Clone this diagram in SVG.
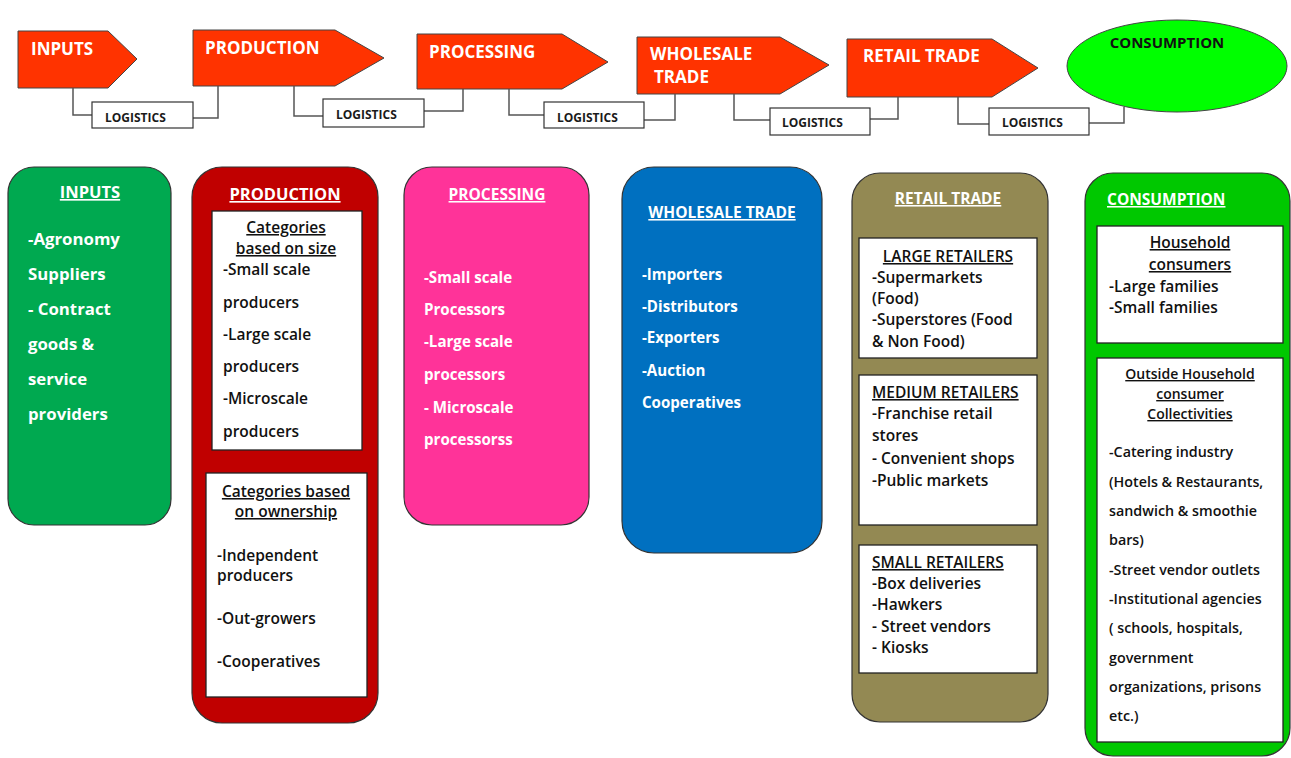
<svg xmlns="http://www.w3.org/2000/svg" width="1291" height="758" viewBox="0 0 1291 758">
<style>
  .arrow{fill:#FF3300;stroke:#444;stroke-width:1}
  .atxt{font-family:"Open Sans","Liberation Sans",sans-serif;font-weight:bold;font-size:17px;fill:#fff}
  .lbox{fill:#fff;stroke:#333;stroke-width:1.2}
  .ltxt{font-family:"Open Sans","Liberation Sans",sans-serif;font-weight:bold;font-size:12px;fill:#1a1a1a}
  .conn{fill:none;stroke:#555;stroke-width:1.5}
  .col{stroke:#333;stroke-width:1.2}
  .ttl{font-family:"Open Sans","Liberation Sans",sans-serif;font-weight:bold;fill:#fff;text-decoration:underline}
  .wt{font-family:"Open Sans","Liberation Sans",sans-serif;font-weight:bold;fill:#fff;font-size:16.8px}
  .wt.ws{font-size:15.1px}
  .inner{fill:#fff;stroke:#222;stroke-width:1.3}
  .dt{font-family:"Open Sans","Liberation Sans",sans-serif;font-weight:600;fill:#111;font-size:15.5px}
  .dh{font-family:"Open Sans","Liberation Sans",sans-serif;font-weight:600;fill:#111;font-size:15.5px;text-decoration:underline}
  .dt.ct{font-size:14.3px}
  .dh.ch{font-size:14px}
</style>

<!-- top chain -->
<g id="top-inputs"><path class="arrow" d="M18,31 H108 L137,59 L108,88 H18 Z"/><text class="atxt" x="31" y="55">INPUTS</text></g>
<g id="top-production"><path class="arrow" d="M193,30 H335 L384,58 L335,86 H193 Z"/><text class="atxt" x="205" y="54">PRODUCTION</text></g>
<g id="top-processing"><path class="arrow" d="M417,34 H562 L608,62 L562,89 H417 Z"/><text class="atxt" x="429" y="58">PROCESSING</text></g>
<g id="top-wholesale"><path class="arrow" d="M637,37 H780 L829,65 L780,94 H637 Z"/><text class="atxt" x="650" y="60">WHOLESALE</text><text class="atxt" x="654" y="83">TRADE</text></g>
<g id="top-retail"><path class="arrow" d="M847,39 H992 L1038,68 L992,97 H847 Z"/><text class="atxt" x="863" y="62">RETAIL TRADE</text></g>
<g id="top-consumption"><ellipse cx="1177" cy="66" rx="110" ry="46" fill="#00FF00" stroke="#444" stroke-width="1"/><text x="1167" y="48" text-anchor="middle" font-family="Open Sans, Liberation Sans, sans-serif" font-weight="bold" font-size="15px" fill="#111">CONSUMPTION</text></g>

<g id="connectors">
  <path class="conn" d="M73,88 V115 H92"/><path class="conn" d="M193,118 H218 V86"/>
  <path class="conn" d="M294,86 V116 H323"/><path class="conn" d="M424,111 H463 V89"/>
  <path class="conn" d="M509,89 V115 H544"/><path class="conn" d="M644,120 H675 V94"/>
  <path class="conn" d="M734,94 V120 H770"/><path class="conn" d="M870,119 H898 V97"/>
  <path class="conn" d="M958,97 V124 H989"/><path class="conn" d="M1089,123 H1124 V107"/>
</g>

<g id="logistics-1"><rect class="lbox" x="92" y="102" width="101" height="26"/><text class="ltxt" x="105" y="122">LOGISTICS</text></g>
<g id="logistics-2"><rect class="lbox" x="323" y="99" width="101" height="28"/><text class="ltxt" x="336" y="119">LOGISTICS</text></g>
<g id="logistics-3"><rect class="lbox" x="544" y="102" width="100" height="26"/><text class="ltxt" x="557" y="122">LOGISTICS</text></g>
<g id="logistics-4"><rect class="lbox" x="770" y="108" width="100" height="27"/><text class="ltxt" x="782" y="127">LOGISTICS</text></g>
<g id="logistics-5"><rect class="lbox" x="989" y="108" width="100" height="27"/><text class="ltxt" x="1002" y="127">LOGISTICS</text></g>

<!-- INPUTS column -->
<g id="col-inputs">
  <rect class="col" x="8" y="167" width="163" height="358" rx="26" fill="#00A950"/>
  <text class="ttl" x="90" y="198" text-anchor="middle" font-size="16.5px">INPUTS</text>
  <text class="wt" x="28" y="245">-Agronomy</text>
  <text class="wt" x="28" y="280">Suppliers</text>
  <text class="wt" x="28" y="315">- Contract</text>
  <text class="wt" x="28" y="350">goods &amp;</text>
  <text class="wt" x="28" y="385">service</text>
  <text class="wt" x="28" y="420">providers</text>
</g>

<!-- PRODUCTION column -->
<g id="col-production">
  <rect class="col" x="192" y="167" width="186" height="556" rx="30" fill="#C00000"/>
  <text class="ttl" x="285" y="200" text-anchor="middle" font-size="16.5px">PRODUCTION</text>
  <rect class="inner" x="212" y="211" width="150" height="239"/>
  <text class="dh" x="286" y="233" text-anchor="middle">Categories</text>
  <text class="dh" x="286" y="254" text-anchor="middle">based on size</text>
  <text class="dt" x="223" y="275">-Small  scale</text>
  <text class="dt" x="223" y="308">producers</text>
  <text class="dt" x="223" y="340">-Large scale</text>
  <text class="dt" x="223" y="372">producers</text>
  <text class="dt" x="223" y="404">-Microscale</text>
  <text class="dt" x="223" y="437">producers</text>
  <rect class="inner" x="206" y="473" width="161" height="224"/>
  <text class="dh" x="286" y="497" text-anchor="middle">Categories based</text>
  <text class="dh" x="286" y="517" text-anchor="middle">on ownership</text>
  <text class="dt" x="217" y="561">-Independent</text>
  <text class="dt" x="217" y="581">producers</text>
  <text class="dt" x="217" y="624">-Out-growers</text>
  <text class="dt" x="217" y="667">-Cooperatives</text>
</g>

<!-- PROCESSING column -->
<g id="col-processing">
  <rect class="col" x="404" y="167" width="185" height="358" rx="28" fill="#FF3399"/>
  <text class="ttl" x="497" y="200" text-anchor="middle" font-size="15.5px">PROCESSING</text>
  <text class="wt ws" x="424" y="283">-Small scale</text>
  <text class="wt ws" x="424" y="315">Processors</text>
  <text class="wt ws" x="424" y="347">-Large scale</text>
  <text class="wt ws" x="424" y="380">processors</text>
  <text class="wt ws" x="424" y="413">- Microscale</text>
  <text class="wt ws" x="424" y="445">processorss</text>
</g>

<!-- WHOLESALE column -->
<g id="col-wholesale">
  <rect class="col" x="622" y="167" width="200" height="386" rx="32" fill="#0070C0"/>
  <text class="ttl" x="722" y="218" text-anchor="middle" font-size="15.5px">WHOLESALE TRADE</text>
  <text class="wt ws" x="642" y="280">-Importers</text>
  <text class="wt ws" x="642" y="312">-Distributors</text>
  <text class="wt ws" x="642" y="343">-Exporters</text>
  <text class="wt ws" x="642" y="376">-Auction</text>
  <text class="wt ws" x="642" y="408">Cooperatives</text>
</g>

<!-- RETAIL column -->
<g id="col-retail">
  <rect class="col" x="852" y="173" width="196" height="549" rx="28" fill="#938953"/>
  <text class="ttl" x="948" y="204" text-anchor="middle" font-size="15.5px">RETAIL TRADE</text>
  <rect class="inner" x="859" y="238" width="178" height="120"/>
  <text class="dh" x="948" y="262" text-anchor="middle">LARGE RETAILERS</text>
  <text class="dt" x="872" y="283">-Supermarkets</text>
  <text class="dt" x="872" y="304">(Food)</text>
  <text class="dt" x="872" y="325">-Superstores (Food</text>
  <text class="dt" x="872" y="347">&amp; Non Food)</text>
  <rect class="inner" x="859" y="375" width="178" height="150"/>
  <text class="dh" x="872" y="398">MEDIUM RETAILERS</text>
  <text class="dt" x="872" y="419">-Franchise retail</text>
  <text class="dt" x="872" y="441">stores</text>
  <text class="dt" x="872" y="464">- Convenient shops</text>
  <text class="dt" x="872" y="486">-Public markets</text>
  <rect class="inner" x="859" y="545" width="178" height="128"/>
  <text class="dh" x="872" y="568">SMALL  RETAILERS</text>
  <text class="dt" x="872" y="589">-Box deliveries</text>
  <text class="dt" x="872" y="610">-Hawkers</text>
  <text class="dt" x="872" y="632">- Street vendors</text>
  <text class="dt" x="872" y="653">- Kiosks</text>
</g>

<!-- CONSUMPTION column -->
<g id="col-consumption">
  <rect class="col" x="1085" y="173" width="205" height="583" rx="28" fill="#00C800"/>
  <text class="ttl" x="1107" y="205" font-size="15.5px">CONSUMPTION</text>
  <rect class="inner" x="1097" y="226" width="186" height="117"/>
  <text class="dh" x="1190" y="248" text-anchor="middle">Household</text>
  <text class="dh" x="1190" y="270" text-anchor="middle">consumers</text>
  <text class="dt" x="1109" y="292">-Large families</text>
  <text class="dt" x="1109" y="313">-Small families</text>
  <rect class="inner" x="1097" y="358" width="186" height="384"/>
  <text class="dh ch" x="1190" y="379" text-anchor="middle">Outside Household</text>
  <text class="dh ch" x="1190" y="399" text-anchor="middle">consumer</text>
  <text class="dh ch" x="1190" y="419" text-anchor="middle">Collectivities</text>
  <text class="dt ct" x="1109" y="457">-Catering industry</text>
  <text class="dt ct" x="1109" y="487">(Hotels &amp; Restaurants,</text>
  <text class="dt ct" x="1109" y="516">sandwich &amp; smoothie</text>
  <text class="dt ct" x="1109" y="545">bars)</text>
  <text class="dt ct" x="1109" y="575">-Street vendor outlets</text>
  <text class="dt ct" x="1109" y="604">-Institutional agencies</text>
  <text class="dt ct" x="1109" y="633">( schools, hospitals,</text>
  <text class="dt ct" x="1109" y="663">government</text>
  <text class="dt ct" x="1109" y="692">organizations, prisons</text>
  <text class="dt ct" x="1109" y="721">etc.)</text>
</g>
</svg>
